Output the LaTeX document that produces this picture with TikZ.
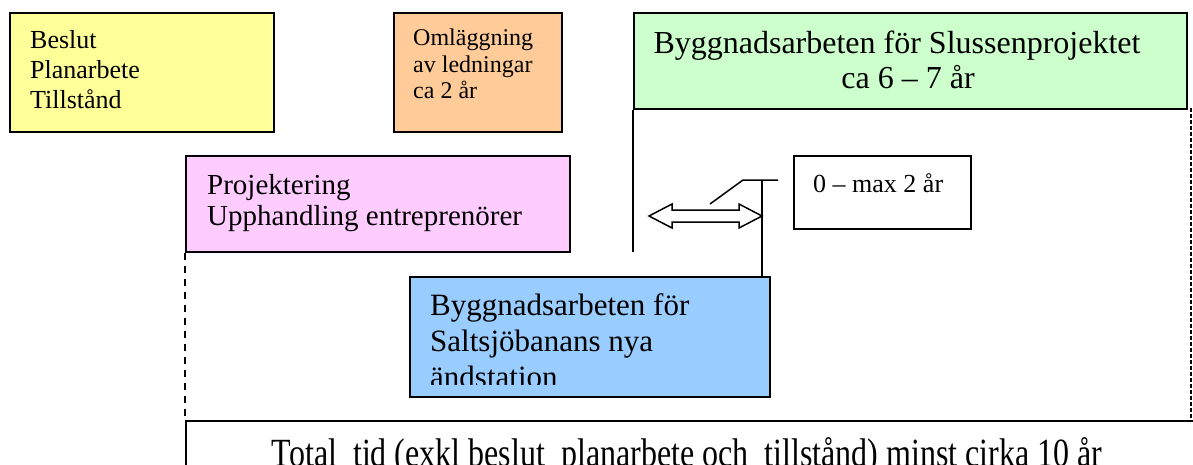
\documentclass[tikz,border=0pt]{standalone}
\usepackage{fontspec}
\setmainfont{Liberation Serif}
\usetikzlibrary{calc}
\definecolor{cyellow}{HTML}{FFFF99}
\definecolor{corange}{HTML}{FFCC99}
\definecolor{cgreen}{HTML}{CCFFCC}
\definecolor{cpink}{HTML}{FFCCFF}
\definecolor{cblue}{HTML}{99CCFF}
\begin{document}
\begin{tikzpicture}[x=1pt,y=-1pt,
  box/.style={draw=black,line width=1.5pt,anchor=north west,inner sep=0pt},
  lbl/.style={anchor=base west,inner sep=0pt},
  ctr/.style={anchor=base,inner sep=0pt},
  ln/.style={line width=1.5pt,draw=black}]
\useasboundingbox (0,0) rectangle (1193,464);
% boxes
\node[box,fill=cyellow,minimum width=264pt,minimum height=119pt] (yellow) at (9,12) {};
\node[box,fill=corange,minimum width=168pt,minimum height=119pt] (orange) at (393,12) {};
\node[box,fill=cgreen,minimum width=553pt,minimum height=96pt] (green) at (633,12) {};
\node[box,fill=cpink,minimum width=384pt,minimum height=96pt] (pink) at (185,155) {};
\node[box,fill=white,minimum width=177pt,minimum height=73pt] (maxbox) at (793,155) {};
\node[box,fill=cblue,minimum width=360pt,minimum height=120pt] (blue) at (409,276) {};
\node[box,fill=white,minimum width=1040pt,minimum height=70pt] (total) at (185,420) {};
% texts
\node[lbl,font=\fontsize{26}{30}\selectfont] (y1) at (30,48) {Beslut};
\node[lbl,font=\fontsize{26}{30}\selectfont] (y2) at (30,78) {Planarbete};
\node[lbl,font=\fontsize{26}{30}\selectfont] (y3) at (30,108) {Tillstånd};
\node[lbl,font=\fontsize{24}{27}\selectfont] (o1) at (413,45) {Omläggning};
\node[lbl,font=\fontsize{24}{27}\selectfont] (o2) at (413,72) {av ledningar};
\node[lbl,font=\fontsize{24}{27}\selectfont] (o3) at (413,98) {ca 2 år};
\node[ctr,font=\fontsize{32}{35}\selectfont] (g1) at (897,53) {Byggnadsarbeten för Slussenprojektet};
\node[ctr,font=\fontsize{32}{35}\selectfont] (g2) at (908,88) {ca 6 – 7 år};
\node[lbl,font=\fontsize{29}{31}\selectfont] (p1) at (207,194) {Projektering};
\node[lbl,font=\fontsize{29}{31}\selectfont] (p2) at (207,225) {Upphandling entreprenörer};
\node[lbl,font=\fontsize{26}{30}\selectfont] (m1) at (813,192) {0 – max 2 år};
\begin{scope}
\clip (409,276) rectangle (769,384);
\node[lbl,font=\fontsize{31}{36}\selectfont] (b1) at (430,315) {Byggnadsarbeten för};
\node[lbl,font=\fontsize{31}{36}\selectfont] (b2) at (430,351) {Saltsjöbanans nya};
\node[lbl,font=\fontsize{31}{36}\selectfont] (b3) at (430,387) {ändstation};
\end{scope}
\node[ctr] (tt) at (687,466) {\scalebox{0.8}[1]{\fontsize{40}{44}\selectfont Total\ \ tid (exkl beslut\ \ planarbete och\ \ tillstånd) minst cirka 10 år}};
% lines
\coordinate (gl) at (633,252);
\draw[ln] (green.south west) -- (gl);
\coordinate (c1) at (762,180);
\coordinate (c2) at (743,180);
\coordinate (c3) at (778,180);
\coordinate (c4) at (710,204);
\draw[ln] (c1 |- blue.north) -- (c1);
\draw[ln] (c3) -- (c2) -- (c4);
% hollow double arrow
\draw[ln,fill=white,line join=miter] (649,216) -- (672,204) -- (672,210) -- (739,210) -- (739,204) -- (762,216) -- (739,228) -- (739,222) -- (672,222) -- (672,228) -- cycle;
% dashed lines
\draw[line width=1.5pt,dash pattern=on 7pt off 6pt] (pink.south west) -- (total.north west);
\coordinate (r1) at (1191,108);
\coordinate (r2) at (1191,420);
\draw[line width=1.5pt,dash pattern=on 4pt off 2pt] (r1) -- (r2);
\end{tikzpicture}
\end{document}
